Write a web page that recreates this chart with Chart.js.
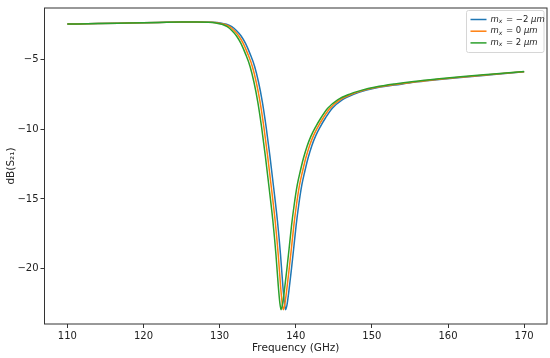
<!DOCTYPE html>
<html>
<head>
<meta charset="utf-8">
<script src="https://cdn.jsdelivr.net/npm/chart.js@4.4.1/dist/chart.umd.min.js"></script>
<style>
  html, body { margin: 0; padding: 0; background: #fff; }
  #wrap { width: 550px; height: 358px; }
</style>
</head>
<body>
<div id="wrap"><canvas id="chart" width="550" height="358"></canvas></div>
<script>
// frequencies (GHz) and dB(S21)
const freqGreen = [110, 114, 118, 122, 125, 127, 128.5, 129.5, 130.3, 131, 131.6, 132.2, 132.8, 133.4, 134, 134.5, 135, 135.5, 136, 136.5, 137, 137.4, 137.7, 137.9, 138.07, 138.25, 138.5, 138.8, 139.1, 139.45, 139.8, 140.2, 140.6, 141, 141.5, 142, 142.6, 143.3, 144.2, 145.5, 147, 148.7, 150.5, 153, 155.5, 158.5, 162, 166, 170];
const dbGreen = [-2.46, -2.43, -2.39, -2.35, -2.32, -2.31, -2.33, -2.38, -2.48, -2.65, -2.92, -3.3, -3.85, -4.6, -5.5, -6.6, -8.0, -9.8, -11.9, -14.2, -16.6, -19.0, -21.2, -22.4, -22.94, -22.6, -21.6, -20.2, -18.7, -16.9, -15.4, -14.0, -13.0, -12.1, -11.2, -10.5, -9.85, -9.2, -8.5, -7.9, -7.5, -7.2, -6.98, -6.76, -6.58, -6.4, -6.22, -6.04, -5.86];

const freqOrange = [110, 114, 118, 122, 125, 127, 128.8, 129.8, 130.6, 131.3, 131.9, 132.5, 133.1, 133.7, 134.3, 134.8, 135.3, 135.8, 136.3, 136.8, 137.3, 137.7, 138.0, 138.2, 138.37, 138.55, 138.8, 139.1, 139.4, 139.75, 140.1, 140.5, 140.9, 141.3, 141.8, 142.3, 142.9, 143.6, 144.5, 145.8, 147.3, 149.0, 150.8, 153, 155.5, 158.5, 162, 166, 170];
const dbOrange = [-2.46, -2.43, -2.39, -2.35, -2.32, -2.31, -2.33, -2.38, -2.48, -2.65, -2.92, -3.3, -3.85, -4.6, -5.5, -6.6, -8.0, -9.8, -11.9, -14.2, -16.6, -19.0, -21.2, -22.4, -22.94, -22.6, -21.6, -20.2, -18.7, -16.9, -15.4, -14.0, -13.0, -12.1, -11.2, -10.5, -9.85, -9.2, -8.5, -7.9, -7.5, -7.2, -6.98, -6.8, -6.61, -6.43, -6.25, -6.06, -5.88];

const freqBlue = [110, 114, 118, 122, 125, 127, 129.1, 130.1, 130.9, 131.6, 132.2, 132.8, 133.4, 134.0, 134.6, 135.1, 135.6, 136.1, 136.6, 137.1, 137.6, 138.0, 138.3, 138.5, 138.67, 138.85, 139.1, 139.4, 139.7, 140.05, 140.4, 140.8, 141.2, 141.6, 142.1, 142.6, 143.2, 143.9, 144.8, 146.1, 147.6, 149.3, 151.1, 153, 155.5, 158.5, 162, 166, 170];
const dbBlue = [-2.46, -2.43, -2.39, -2.35, -2.32, -2.31, -2.33, -2.38, -2.48, -2.65, -2.92, -3.3, -3.85, -4.6, -5.5, -6.6, -8.0, -9.8, -11.9, -14.2, -16.6, -19.0, -21.2, -22.4, -22.94, -22.6, -21.6, -20.2, -18.7, -16.9, -15.4, -14.0, -13.0, -12.1, -11.2, -10.5, -9.85, -9.2, -8.5, -7.9, -7.5, -7.2, -6.98, -6.84, -6.64, -6.46, -6.27, -6.08, -5.89];

const seriesValues = ['\u22122', '0', '2'];   // m_x in um
const seriesColors = ['#1f77b4', '#ff7f0e', '#2ca02c'];
const xTicks = [110, 120, 130, 140, 150, 160, 170];
const yTicks = [-5, -10, -15, -20];

const FONT = 'DejaVu Sans';

function pts(xs, ys) {
    return xs.map((x, i) => ({ x: x, y: ys[i] }));
}

function minusFmt(v) {
    return v < 0 ? '\u2212' + Math.abs(v) : String(v);
}

// matplotlib-like frame and legend box
const framePlugin = {
    id: 'frame',
    afterDraw(chart) {
        const ctx = chart.ctx;
        const a = chart.chartArea;
        ctx.save();
        ctx.strokeStyle = '#333';
        ctx.lineWidth = 1;
        ctx.strokeRect(a.left, a.top, a.right - a.left, a.bottom - a.top);

        // legend
        const bx = a.right - 80.5, by = a.top + 2.5, bw = 77.5, bh = 42;
        ctx.fillStyle = 'rgba(255,255,255,0.85)';
        ctx.strokeStyle = '#d6d6d6';
        ctx.beginPath();
        ctx.roundRect(bx, by, bw, bh, 2);
        ctx.fill();
        ctx.stroke();

        chart.data.datasets.forEach((ds, i) => {
            const ly = by + 9 + i * 11.7;
            ctx.strokeStyle = ds.borderColor;
            ctx.lineWidth = 1.5;
            ctx.beginPath();
            ctx.moveTo(bx + 4, ly);
            ctx.lineTo(bx + 20, ly);
            ctx.stroke();

            ctx.fillStyle = '#222';
            ctx.textBaseline = 'middle';
            ctx.textAlign = 'left';
            let tx = bx + 24;
            ctx.font = 'italic 8.5px ' + FONT;
            ctx.fillText('m', tx, ly);
            tx += ctx.measureText('m').width;
            ctx.font = 'italic 6px ' + FONT;
            ctx.fillText('x', tx, ly + 2);
            tx += ctx.measureText('x').width + 1;
            ctx.font = '8.5px ' + FONT;
            const rest = ' = ' + seriesValues[i] + ' ';
            ctx.fillText(rest, tx, ly);
            tx += ctx.measureText(rest).width;
            ctx.font = 'italic 8.5px ' + FONT;
            ctx.fillText('\u03bcm', tx, ly);
        });
        ctx.restore();
    }
};

const datasets = [
    { label: 'm_x = -2 um', data: pts(freqBlue, dbBlue), borderColor: seriesColors[0], order: 3 },
    { label: 'm_x = 0 um', data: pts(freqOrange, dbOrange), borderColor: seriesColors[1], order: 2 },
    { label: 'm_x = 2 um', data: pts(freqGreen, dbGreen), borderColor: seriesColors[2], order: 1 }
].map(d => Object.assign(d, {
    borderWidth: 1.5,
    pointRadius: 0,
    fill: false,
    cubicInterpolationMode: 'monotone'
}));

new Chart(document.getElementById('chart').getContext('2d'), {
    type: 'line',
    data: { datasets: datasets },
    plugins: [framePlugin],
    options: {
        responsive: false,
        animation: false,
        layout: { padding: { top: 2.5, right: 3, bottom: 0, left: 0 } },
        plugins: {
            legend: { display: false },
            tooltip: { enabled: false }
        },
        scales: {
            x: {
                type: 'linear',
                min: 107,
                max: 173,
                afterBuildTicks: s => { s.ticks = xTicks.map(v => ({ value: v })); },
                afterFit: s => { s.height = 34; },
                border: { display: false },
                grid: { drawOnChartArea: false, tickLength: 4, tickColor: '#333' },
                ticks: { font: { family: FONT, size: 10 }, color: '#222', padding: 2, maxRotation: 0, autoSkip: false },
                title: { display: true, text: 'Frequency (GHz)', font: { family: FONT, size: 10.5 }, color: '#222', padding: { top: 0, bottom: 3.5 } }
            },
            y: {
                type: 'linear',
                min: -23.97,
                max: -1.31,
                afterBuildTicks: s => { s.ticks = yTicks.map(v => ({ value: v })); },
                afterFit: s => { s.width = 44.5; },
                border: { display: false },
                grid: { drawOnChartArea: false, tickLength: 4, tickColor: '#333' },
                ticks: { font: { family: FONT, size: 10 }, color: '#222', padding: 2, callback: minusFmt },
                title: { display: true, text: 'dB(S\u2082\u2081)', font: { family: FONT, size: 10.5 }, color: '#222', padding: { top: 5, bottom: 0 } }
            }
        }
    }
});
</script>
</body>
</html>
